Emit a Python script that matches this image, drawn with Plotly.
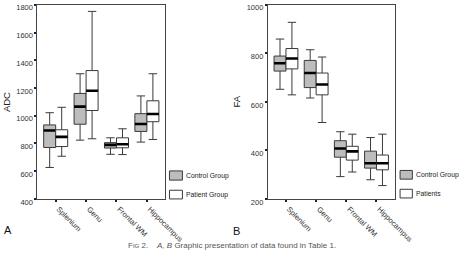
import plotly.graph_objects as go

categories = ["Splenium", "Genu", "Frontal WM", "Hippocampus"]

# ADC (panel A)
adc_ctrl_low = [627, 824, 722, 810]
adc_ctrl_q1 = [771, 939, 767, 887]
adc_ctrl_med = [894, 1066, 790, 941]
adc_ctrl_q3 = [934, 1161, 806, 1015]
adc_ctrl_high = [1022, 1303, 841, 1143]

adc_pat_low = [708, 834, 720, 829]
adc_pat_q1 = [778, 1038, 769, 957]
adc_pat_med = [848, 1180, 794, 1013]
adc_pat_q3 = [899, 1326, 841, 1108]
adc_pat_high = [1061, 1753, 906, 1303]

# FA (panel B)
fa_ctrl_low = [652, 616, 292, 279]
fa_ctrl_q1 = [727, 659, 372, 327]
fa_ctrl_med = [759, 719, 408, 347]
fa_ctrl_q3 = [789, 771, 440, 397]
fa_ctrl_high = [859, 815, 477, 453]

fa_pat_low = [629, 515, 311, 255]
fa_pat_q1 = [736, 629, 360, 320]
fa_pat_med = [779, 672, 396, 347]
fa_pat_q3 = [820, 719, 417, 381]
fa_pat_high = [928, 785, 467, 467]

adc_ticks = [400, 600, 800, 1000, 1200, 1400, 1600, 1800]
fa_ticks = [200, 400, 600, 800, 1000]

legend_a = ["Control Group", "Patient Group"]
legend_b = ["Control Group", "Patients"]

CTRL_FILL = "#bdbdbd"
PAT_FILL = "#ffffff"
EDGE = "#3a3a3a"
FONT = "Liberation Sans, Arial, sans-serif"
W, H = 476, 261

fig = go.Figure()


def add_boxes(xa, ya, low, q1, med, q3, high, fill, group, name):
    fig.add_trace(go.Box(
        x=categories, q1=q1, median=med, q3=q3, lowerfence=low, upperfence=high,
        xaxis=xa, yaxis=ya, name=name, offsetgroup=group, fillcolor=fill,
        line=dict(color=EDGE, width=1), whiskerwidth=0.7, showlegend=False,
        boxpoints=False))
    # thick median bar drawn as a zero-height box at the median
    fig.add_trace(go.Box(
        x=categories, q1=med, median=med, q3=med, lowerfence=med, upperfence=med,
        xaxis=xa, yaxis=ya, offsetgroup=group, fillcolor="rgba(0,0,0,0)",
        line=dict(color="#000000", width=2.6), whiskerwidth=0, showlegend=False,
        boxpoints=False, hoverinfo="skip"))


add_boxes("x", "y", adc_ctrl_low, adc_ctrl_q1, adc_ctrl_med, adc_ctrl_q3, adc_ctrl_high, CTRL_FILL, "c", legend_a[0])
add_boxes("x", "y", adc_pat_low, adc_pat_q1, adc_pat_med, adc_pat_q3, adc_pat_high, PAT_FILL, "p", legend_a[1])
add_boxes("x2", "y2", fa_ctrl_low, fa_ctrl_q1, fa_ctrl_med, fa_ctrl_q3, fa_ctrl_high, CTRL_FILL, "c", legend_b[0])
add_boxes("x2", "y2", fa_pat_low, fa_pat_q1, fa_pat_med, fa_pat_q3, fa_pat_high, PAT_FILL, "p", legend_b[1])

ydom = [1 - 205 / H, 1 - 4 / H]
axis_common = dict(showline=True, linecolor="#444", linewidth=1, mirror=True,
                   showgrid=False, zeroline=False, ticks="outside", ticklen=2,
                   tickwidth=1.5, tickcolor="#222",
                   tickfont=dict(family=FONT, size=7.5, color="#333"))

fig.update_layout(
    width=W, height=H, margin=dict(l=0, r=0, t=0, b=0),
    paper_bgcolor="white", plot_bgcolor="white",
    boxmode="group", boxgap=0.21, boxgroupgap=0,
    showlegend=False,
    xaxis=dict(domain=[39 / W, 172 / W], anchor="y", type="category",
               categoryorder="array", categoryarray=categories,
               range=[-0.6, 3.6], tickangle=45, ticklabelshift=3, **axis_common),
    yaxis=dict(domain=ydom, anchor="x", range=[400, 1800], tickvals=adc_ticks,
               ticklabelshift=3, **axis_common),
    xaxis2=dict(domain=[279 / W, 411 / W], anchor="y2", type="category",
                categoryorder="array", categoryarray=categories,
                range=[-0.6, 3.6], tickangle=45, ticklabelshift=3, **axis_common),
    yaxis2=dict(domain=ydom, anchor="x2", range=[200, 1000], tickvals=fa_ticks,
                ticklabelshift=3, **axis_common),
)

ann = []
# axis titles
ann.append(dict(text="ADC", x=7 / W, y=1 - 105 / H, xref="paper", yref="paper",
                xanchor="center", yanchor="middle",
                showarrow=False, textangle=-90, font=dict(family=FONT, size=9.5, color="#222")))
ann.append(dict(text="FA", x=246 / W, y=1 - 104 / H, xref="paper", yref="paper",
                xanchor="center", yanchor="middle",
                showarrow=False, textangle=-90, font=dict(family=FONT, size=9.5, color="#222")))
# panel letters
ann.append(dict(text="A", x=8 / W, y=1 - 237 / H, xref="paper", yref="paper",
                xanchor="center", yanchor="middle",
                showarrow=False, font=dict(family=FONT, size=11, color="#111")))
ann.append(dict(text="B", x=246.5 / W, y=1 - 238 / H, xref="paper", yref="paper",
                xanchor="center", yanchor="middle",
                showarrow=False, font=dict(family=FONT, size=11, color="#111")))
# caption
ann.append(dict(text="F<span style='font-size:6px'>IG</span> 2.\u00a0\u00a0\u00a0\u00a0<i>A, B</i>\u00a0Graphic presentation of data found in Table 1.",
                x=131 / W, y=1 - 253.5 / H, xref="paper", yref="paper", xanchor="left",
                yanchor="middle",
                showarrow=False, font=dict(family=FONT, size=8, color="#555")))

# custom legends (swatch + label)
shapes = []
legend_specs = [
    (176.5, 190, [(176, 185.5), (196, 205)], 191.5, legend_a),
    (416.7, 429.5, [(175.5, 184.5), (195, 204)], 431, legend_b),
]
for x0, x1, ys, tx, labels in legend_specs:
    for (y0, y1), lab, fill in zip(ys, labels, [CTRL_FILL, PAT_FILL]):
        shapes.append(dict(type="rect", xref="paper", yref="paper",
                           x0=x0 / W, x1=x1 / W, y0=1 - y1 / H, y1=1 - y0 / H,
                           fillcolor=fill, line=dict(color=EDGE, width=1)))
        ann.append(dict(text=lab, x=tx / W, y=1 - (y0 + y1) / 2 / H, xref="paper", yref="paper",
                        xanchor="left", yanchor="middle", showarrow=False,
                        font=dict(family=FONT, size=6.8, color="#222")))

fig.update_layout(annotations=ann, shapes=shapes)
fig.write_html("out.html")
